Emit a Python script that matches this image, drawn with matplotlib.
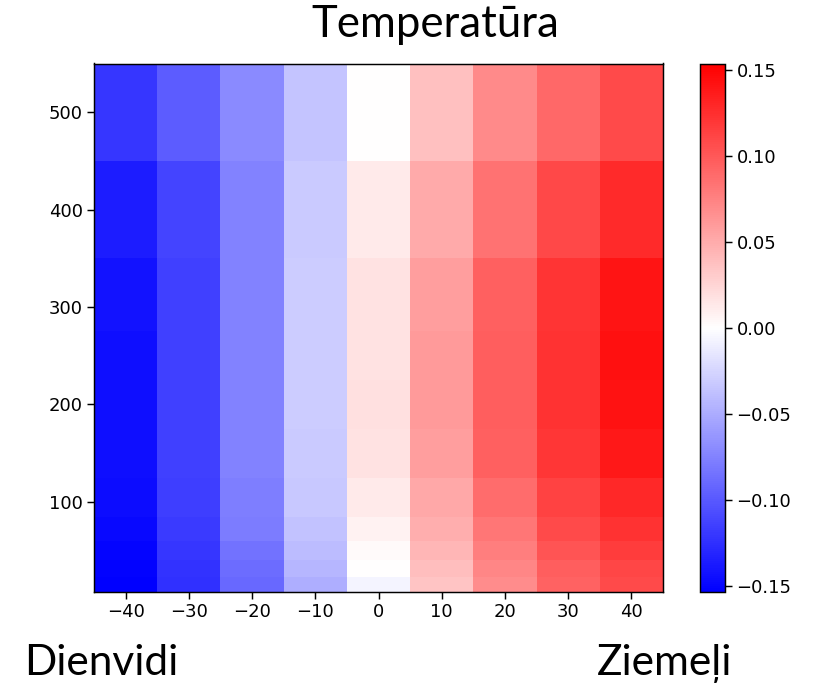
import numpy as np
import matplotlib
matplotlib.use("Agg")
import matplotlib.pyplot as plt

# latitude centres and pressure-like levels (top to bottom)
lats = [-40, -30, -20, -10, 0, 10, 20, 30, 40]
levels = [500, 400, 300, 250, 200, 150, 100, 70, 50, 30, 15]

t500 = [-0.121, -0.098, -0.070, -0.035, 0.001, 0.038, 0.070, 0.091, 0.109]
t400 = [-0.136, -0.112, -0.075, -0.032, 0.012, 0.051, 0.085, 0.110, 0.128]
t300 = [-0.142, -0.115, -0.075, -0.031, 0.017, 0.058, 0.095, 0.122, 0.141]
t250 = [-0.144, -0.115, -0.075, -0.031, 0.017, 0.061, 0.096, 0.123, 0.143]
t200 = [-0.145, -0.115, -0.075, -0.031, 0.018, 0.061, 0.096, 0.123, 0.142]
t150 = [-0.144, -0.115, -0.075, -0.032, 0.017, 0.058, 0.095, 0.121, 0.138]
t100 = [-0.146, -0.116, -0.077, -0.033, 0.012, 0.052, 0.088, 0.113, 0.129]
t70 = [-0.148, -0.118, -0.079, -0.037, 0.008, 0.048, 0.082, 0.108, 0.123]
t50 = [-0.150, -0.121, -0.084, -0.040, 0.003, 0.044, 0.077, 0.103, 0.117]
t30 = [-0.152, -0.123, -0.088, -0.044, 0.000, 0.039, 0.072, 0.097, 0.111]
t15 = [-0.153, -0.124, -0.090, -0.048, -0.007, 0.035, 0.069, 0.094, 0.109]

temp = np.array([t500, t400, t300, t250, t200, t150, t100, t70, t50, t30, t15])
vlim = 0.1535

fig = plt.figure(figsize=(8.25, 6.85), dpi=100)
ax = fig.add_axes([94 / 825, 93 / 685, 569 / 825, 528.5 / 685])
cax = fig.add_axes([700 / 825, 92.7 / 685, 25 / 825, 528.3 / 685])

mesh = ax.pcolormesh(lats, levels, temp, cmap='bwr', vmin=-vlim, vmax=vlim,
                     shading='nearest')
cb = fig.colorbar(mesh, cax=cax)
cb.set_ticks([-0.15, -0.10, -0.05, 0.0, 0.05, 0.10, 0.15])

ax.set_xticks([-40, -30, -20, -10, 0, 10, 20, 30, 40])
ax.set_yticks([100, 200, 300, 400, 500])
for a in (ax, cax):
    a.tick_params(labelsize=13, length=4.7, width=1.05)
    for s in a.spines.values():
        s.set_linewidth(1.05)
cb.outline.set_linewidth(1.05)

fig.text(435.5 / 825, 1 - 37 / 685, 'Temperatūra', family='Lato', fontsize=31.5,
         ha='center', va='baseline')
fig.text(24 / 825, 1 - 675 / 685, 'Dienvidi', family='Lato', fontsize=30.5,
         ha='left', va='baseline')
fig.text(732 / 825, 1 - 675 / 685, 'Ziemeļi', family='Lato', fontsize=30.5,
         ha='right', va='baseline')

fig.savefig('out.png', dpi=100)
